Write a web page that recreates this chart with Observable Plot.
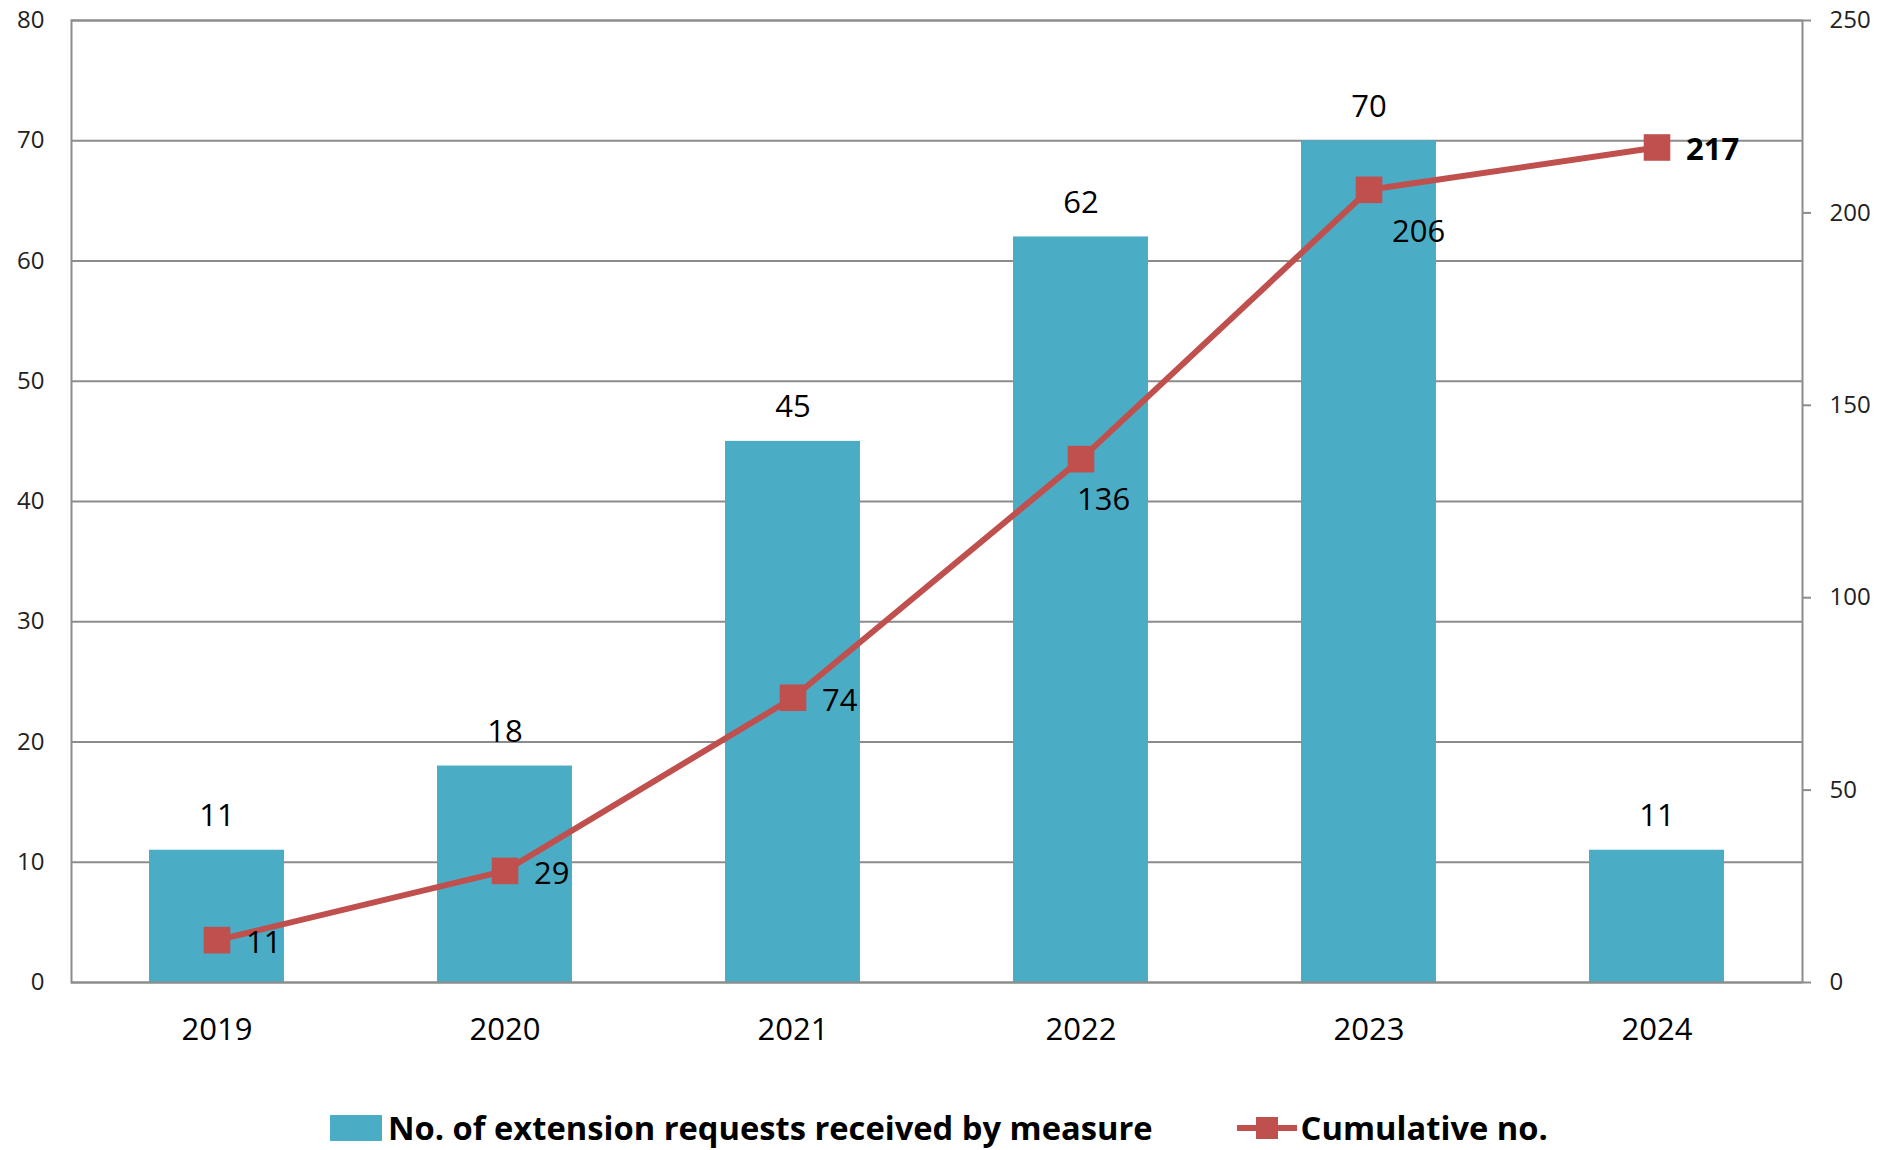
<!DOCTYPE html>
<html><head><meta charset="utf-8">
<script src="https://cdn.jsdelivr.net/npm/d3@7"></script>
<script src="https://cdn.jsdelivr.net/npm/@observablehq/plot@0.6"></script>
<style>
body{margin:0;background:#fff;font-family:"Open Sans",sans-serif;}
#wrap{position:relative;width:1882px;height:1150px;}
#legend{position:absolute;left:330px;top:1108px;height:40px;display:flex;align-items:center;font-weight:700;font-size:32.7px;line-height:1;color:#000;white-space:nowrap;}
.item{display:flex;align-items:center;}
</style></head><body><div id="wrap"><div id="chart"></div><div id="legend"></div></div>
<script>
const years = ["2019", "2020", "2021", "2022", "2023", "2024"];
const requests = [11, 18, 45, 62, 70, 11];
const cumulative = [11, 29, 74, 136, 206, 217];
const leftTicks = [0, 10, 20, 30, 40, 50, 60, 70, 80];
const rightTicks = [0, 50, 100, 150, 200, 250];
const cumLabelPlacement = ["right", "right", "right", "below", "belowRight", "rightBold"];
const seriesNames = ["No. of extension requests received by measure", "Cumulative no."];

const barColor = "#4BACC6";
const lineColor = "#C0504D";
const gridColor = "#8c8c8c";
const k = leftTicks[leftTicks.length - 1] / rightTicks[rightTicks.length - 1];

const data = years.map((year, i) => ({year, req: requests[i], cum: cumulative[i], place: cumLabelPlacement[i]}));
const offsets = {
  right: {dx: 29, dy: 3, weight: 400},
  rightBold: {dx: 29, dy: 3, weight: 700},
  below: {dx: -4, dy: 41, weight: 400},
  belowRight: {dx: 23, dy: 42, weight: 400}
};
const labelMarks = Object.entries(offsets).map(([key, o]) =>
  Plot.text(data.filter(d => d.place === key), {
    x: "year", y: d => d.cum * k, text: d => String(d.cum),
    dx: o.dx, dy: o.dy, textAnchor: "start", fontSize: 31, fontWeight: o.weight, fill: "#000"
  })
);

const chart = Plot.plot({
  width: 1882,
  height: 1080,
  marginLeft: 71,
  marginRight: 80,
  marginTop: 20,
  marginBottom: 98,
  style: {fontFamily: "Open Sans", background: "#fff"},
  x: {domain: years, paddingInner: 0.53, paddingOuter: 0.265, label: null},
  y: {domain: [0, 80], label: null},
  marks: [
    Plot.gridY(leftTicks, {stroke: gridColor, strokeOpacity: 1, strokeWidth: 2}),
    Plot.barY(data, {x: "year", y: "req", fill: barColor}),
    Plot.frame({stroke: gridColor, strokeWidth: 2}),
    Plot.text(data, {x: "year", y: "req", text: d => String(d.req), dy: -34, fontSize: 31, fill: "#000"}),
    Plot.line(data, {x: "year", y: d => d.cum * k, stroke: lineColor, strokeWidth: 6}),
    Plot.dot(data, {x: "year", y: d => d.cum * k, symbol: "square", r: 15, fill: lineColor, stroke: "none"}),
    ...labelMarks,
    Plot.axisY(leftTicks, {anchor: "left", tickSize: 0, tickPadding: 27, fontSize: 24, fill: "#222", label: null}),
    Plot.axisY(rightTicks.map(v => v * k), {anchor: "right", tickSize: 8, tickPadding: 19, fontSize: 24, fill: "#222", stroke: gridColor, strokeWidth: 2, tickFormat: v => String(Math.round(v / k)), label: null}),
    Plot.axisX({tickSize: 0, tickPadding: 35, fontSize: 31, fill: "#000", label: null})
  ]
});
document.getElementById("chart").appendChild(chart);

const legend = document.getElementById("legend");
legend.innerHTML = `
  <div class="item"><svg width="52" height="26" style="margin-right:6px"><rect x="0" y="0" width="52" height="26" fill="${barColor}"/></svg><span>${seriesNames[0]}</span></div>
  <div class="item" style="margin-left:84px"><svg width="60" height="26" style="margin-right:4px"><line x1="0" x2="60" y1="13" y2="13" stroke="${lineColor}" stroke-width="6"/><rect x="19" y="2" width="22" height="22" fill="${lineColor}"/></svg><span>${seriesNames[1]}</span></div>`;
</script>
</body></html>
